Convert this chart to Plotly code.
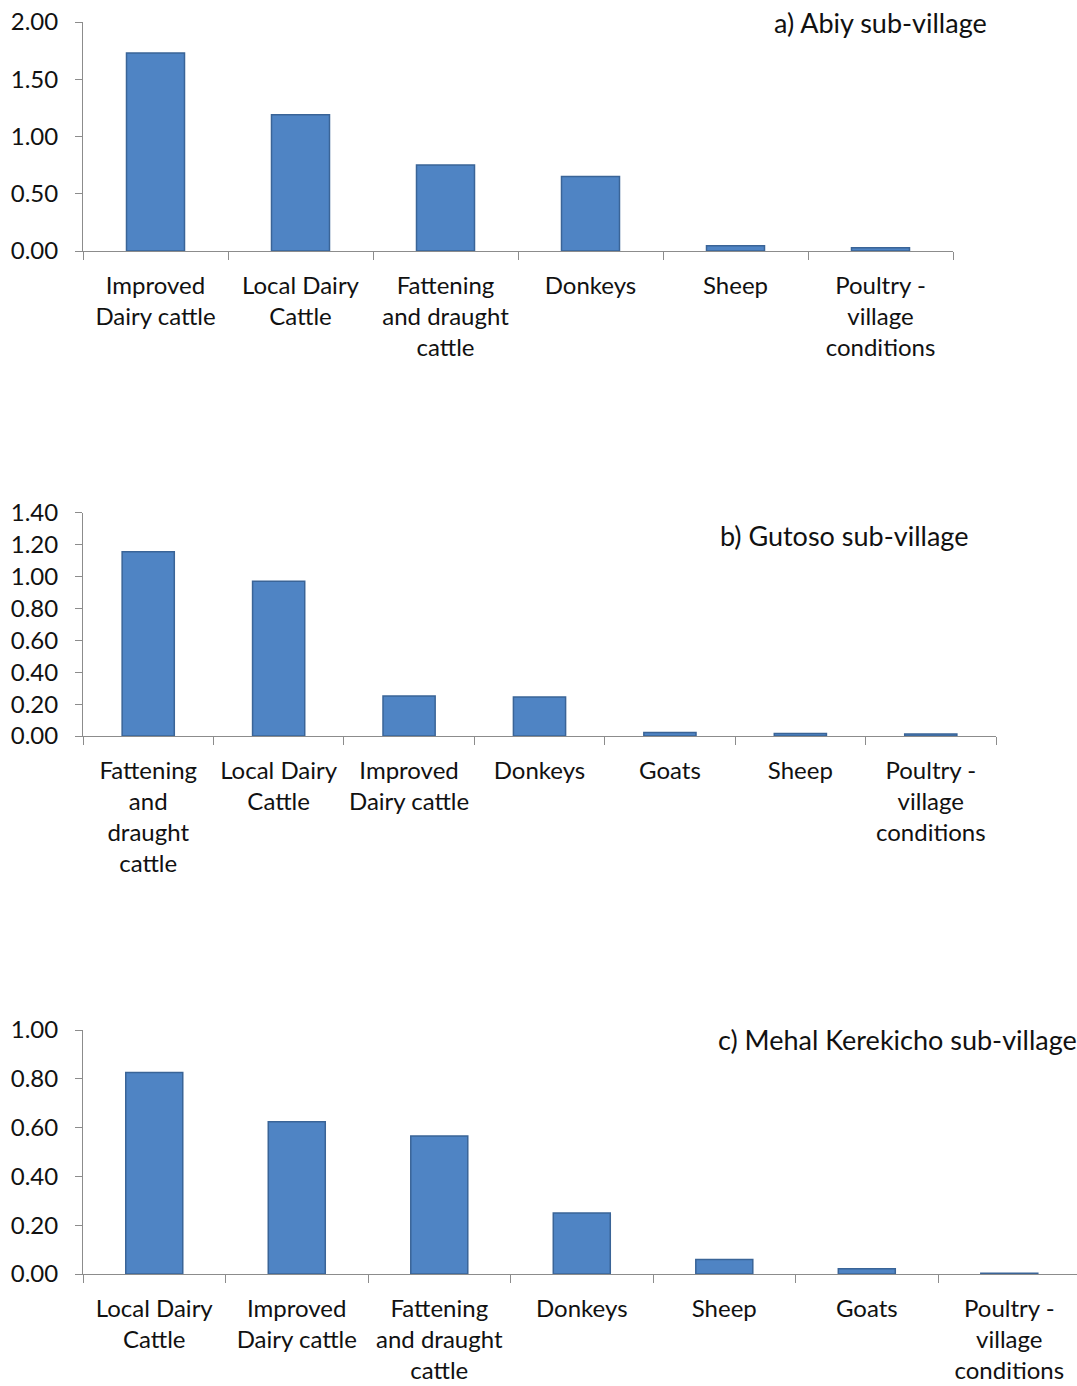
import plotly.graph_objects as go

W, H = 1077, 1386

# ---- data ----
cats_a = ["Improved<br>Dairy cattle", "Local Dairy<br>Cattle", "Fattening<br>and draught<br>cattle",
          "Donkeys", "Sheep", "Poultry -<br>village<br>conditions"]
vals_a = [1.73, 1.19, 0.75, 0.65, 0.046, 0.029]

cats_b = ["Fattening<br>and<br>draught<br>cattle", "Local Dairy<br>Cattle", "Improved<br>Dairy cattle",
          "Donkeys", "Goats", "Sheep", "Poultry -<br>village<br>conditions"]
vals_b = [1.155, 0.97, 0.25, 0.245, 0.022, 0.016, 0.013]

cats_c = ["Local Dairy<br>Cattle", "Improved<br>Dairy cattle", "Fattening<br>and draught<br>cattle",
          "Donkeys", "Sheep", "Goats", "Poultry -<br>village<br>conditions"]
vals_c = [0.826, 0.624, 0.566, 0.25, 0.059, 0.022, 0.003]

titles = ["a) Abiy sub-village", "b) Gutoso sub-village", "c) Mehal Kerekicho sub-village"]

FONT = "Lato"
FS = 24
BAR = "#4F84C4"
EDGE = "#3A6497"
AX = "#8C8C8C"

def px(x):
    return x / W

def py(y):
    return (H - y) / H

fig = go.Figure()
specs = [
    # cats, vals, xsuffix, x0px, x1px, ytop_px, ybot_px, yrange, dtick, xrange
    (cats_a, vals_a, "", 83, 953, 22, 251, [0, 2.0], 0.5, [-0.5, 5.5]),
    (cats_b, vals_b, "2", 83, 996, 512.7, 736, [0, 1.4], 0.2, [-0.5, 6.5]),
    (cats_c, vals_c, "3", 83, W, 1030, 1274, [0, 1.0], 0.2, [-0.5, 6.475]),
]

for cats, vals, s, x0, x1, yt, yb, yr, dt, xr in specs:
    fig.add_trace(go.Bar(
        x=cats, y=vals, xaxis="x" + s, yaxis="y" + s,
        marker=dict(color=BAR, line=dict(color=EDGE, width=1.5)),
        showlegend=False, hoverinfo="x+y",
    ))
    xa = dict(
        domain=[px(x0), min(1.0, px(x1))], anchor="y" + s, type="category",
        range=xr, showline=True, linecolor=AX, linewidth=1,
        ticks="outside", ticklen=8, tickcolor=AX, tickson="boundaries",
        showgrid=False, zeroline=False, automargin=False,
        tickfont=dict(family=FONT, size=FS, color="#111"),
        ticklabelstandoff=13,
    )
    ya = dict(
        domain=[py(yb), py(yt)], anchor="x" + s, range=yr, dtick=dt, tick0=0,
        tickformat=".2f", showline=True, linecolor=AX, linewidth=1,
        ticks="outside", ticklen=7, tickcolor=AX, showgrid=False, zeroline=False,
        automargin=False, tickfont=dict(family=FONT, size=FS, color="#111"),
        ticklabelstandoff=12,
    )
    fig.layout["xaxis" + s] = xa
    fig.layout["yaxis" + s] = ya

ann_pos = [(772, 22), (718, 535), (716, 1039)]
for t, (ax_, ay_) in zip(titles, ann_pos):
    fig.add_annotation(text=t, xref="paper", yref="paper", x=px(ax_), y=py(ay_),
                       xanchor="left", yanchor="middle", showarrow=False,
                       font=dict(family=FONT, size=27, color="#111"))

fig.update_layout(
    width=W, height=H, margin=dict(l=0, r=0, t=0, b=0),
    paper_bgcolor="white", plot_bgcolor="white", bargap=0.6,
    font=dict(family=FONT, size=FS, color="#111"),
)

fig.write_html("out.html", config={"displayModeBar": False},
               post_script="document.body.style.margin='0';document.body.style.padding='0';document.body.style.overflow='hidden';")
